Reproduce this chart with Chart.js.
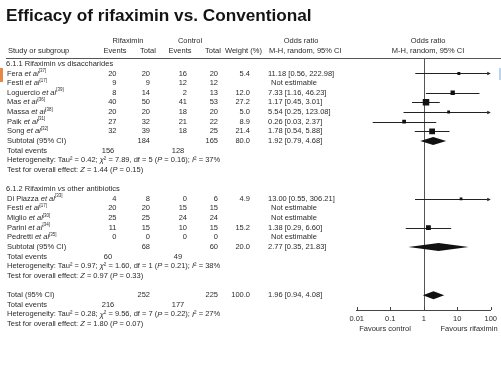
<!DOCTYPE html>
<html>
<head>
<meta charset="utf-8">
<script src="https://cdn.jsdelivr.net/npm/chart.js@4/dist/chart.umd.min.js"></script>
<style>
  html, body { margin: 0; padding: 0; background: #fff; }
  canvas { display: block; }
</style>
</head>
<body>
<canvas id="chart" width="501" height="375"></canvas>
<script>
var title = 'Efficacy of rifaximin vs. Conventional';

// 6.1.1 Rifaximin vs disaccharides
var names1 = ['Fera', 'Festi', 'Loguercio', 'Mas', 'Massa', 'Paik', 'Song'];
var refs1 = ['37', '17', '39', '36', '38', '31', '32'];
var rifEvents1 = [20, 9, 8, 40, 20, 27, 32];
var rifTotal1 = [20, 9, 14, 50, 20, 32, 39];
var ctlEvents1 = [16, 12, 2, 41, 18, 21, 18];
var ctlTotal1 = [20, 12, 13, 53, 20, 22, 25];
var weight1 = [5.4, null, 12.0, 27.2, 5.0, 8.9, 21.4];
var or1 = [11.18, null, 7.33, 1.17, 5.54, 0.26, 1.78];
var lo1 = [0.56, null, 1.16, 0.45, 0.25, 0.03, 0.54];
var hi1 = [222.98, null, 46.23, 3.01, 123.08, 2.37, 5.88];

// 6.1.2 Rifaximin vs other antibiotics
var names2 = ['Di Piazza', 'Festi', 'Miglio', 'Parini', 'Pedretti'];
var refs2 = ['33', '17', '30', '34', '35'];
var rifEvents2 = [4, 20, 25, 11, 0];
var rifTotal2 = [8, 20, 25, 15, 0];
var ctlEvents2 = [0, 15, 24, 10, 0];
var ctlTotal2 = [6, 15, 24, 15, 0];
var weight2 = [4.9, null, null, 15.2, null];
var or2 = [13.00, null, null, 1.38, null];
var lo2 = [0.55, null, null, 0.29, null];
var hi2 = [306.21, null, null, 6.60, null];

// subtotal 1, subtotal 2, overall total
var sumLabels = ['Subtotal (95% CI)', 'Subtotal (95% CI)', 'Total (95% CI)'];
var sumRifTotal = [184, 68, 252];
var sumCtlTotal = [165, 60, 225];
var sumWeight = [80.0, 20.0, 100.0];
var sumOr = [1.92, 2.77, 1.96];
var sumLo = [0.79, 0.35, 0.94];
var sumHi = [4.68, 21.83, 4.08];
var sumRifEvents = [156, 60, 216];
var sumCtlEvents = [128, 49, 177];
var hetText = [
    'Heterogeneity: Tau² = 0.42; _χ_² = 7.89, df = 5 (_P_ = 0.16); _I_² = 37%',
    'Heterogeneity: Tau² = 0.97; _χ_² = 1.60, df = 1 (_P_ = 0.21); _I_² = 38%',
    'Heterogeneity: Tau² = 0.28; _χ_² = 9.56, df = 7 (_P_ = 0.22); _I_² = 27%'
];
var testText = [
    'Test for overall effect: _Z_ = 1.44 (_P_ = 0.15)',
    'Test for overall effect: _Z_ = 0.97 (_P_ = 0.33)',
    'Test for overall effect: _Z_ = 1.80 (_P_ = 0.07)'
];

var xTicks = [0.01, 0.1, 1, 10, 100];

// put the groups together and give each line a row number
var groups = [
    { head: '6.1.1 Rifaximin _vs_ disaccharides', start: 0, names: names1, refs: refs1, re: rifEvents1, rt: rifTotal1,
      ce: ctlEvents1, ct: ctlTotal1, w: weight1, or: or1, lo: lo1, hi: hi1 },
    { head: '6.1.2 Rifaximin _vs_ other antibiotics', start: 13, names: names2, refs: refs2, re: rifEvents2, rt: rifTotal2,
      ce: ctlEvents2, ct: ctlTotal2, w: weight2, or: or2, lo: lo2, hi: hi2 }
];
var sumRows = [8, 19, 24];

var squares = [];
var ciLines = [];
groups.forEach(function (g) {
    g.names.forEach(function (n, i) {
        var row = g.start + 1 + i;
        if (g.or[i] != null) {
            squares.push({ x: g.or[i], y: row, w: g.w[i] });
            ciLines.push({ lo: g.lo[i], hi: g.hi[i], y: row });
        }
    });
});
var diamonds = sumOr.map(function (v, i) {
    return { or: v, lo: sumLo[i], hi: sumHi[i], y: sumRows[i] };
});

var FAMILY = '"Liberation Sans", Arial, sans-serif';
var FS = 7.5;
var TXT = '#2b2b2b';

function parseRich(str) {
    var segs = [], cur = '', it = false, sup = false;
    for (var i = 0; i < str.length; i++) {
        var c = str[i];
        if (c === '_' || c === '^') {
            if (cur) segs.push({ t: cur, it: it, sup: sup });
            cur = '';
            if (c === '_') it = !it; else sup = !sup;
        } else cur += c;
    }
    if (cur) segs.push({ t: cur, it: it, sup: sup });
    return segs;
}
function fontFor(s) {
    return (s.it ? 'italic ' : '') + (s.sup ? 4.5 : FS) + 'px ' + FAMILY;
}
function drawText(ctx, str, x, y, align) {
    var segs = parseRich(String(str));
    var w = 0;
    segs.forEach(function (s) { ctx.font = fontFor(s); s.w = ctx.measureText(s.t).width; w += s.w; });
    var cx = align === 'right' ? x - w : (align === 'center' ? x - w / 2 : x);
    ctx.textAlign = 'left';
    ctx.textBaseline = 'middle';
    segs.forEach(function (s) {
        ctx.font = fontFor(s);
        ctx.fillText(s.t, cx, s.sup ? y - 2.5 : y);
        cx += s.w;
    });
}
function fmtCI(o, l, h) {
    return o.toFixed(2) + ' [' + l.toFixed(2) + ', ' + h.toFixed(2) + ']';
}

// column positions
var colRe = 116.5, colRt = 150, colCe = 187, colCt = 218, colW = 250, colOr = 268;

var forestPlugin = {
    id: 'forest',
    beforeDatasetsDraw: function (chart) {
        var ctx = chart.ctx, xs = chart.scales.x, ys = chart.scales.y, area = chart.chartArea;
        ctx.save();
        // line of no effect
        ctx.strokeStyle = '#555';
        ctx.lineWidth = 1;
        ctx.beginPath();
        ctx.moveTo(Math.round(xs.getPixelForValue(1)) + 0.5, area.top);
        ctx.lineTo(Math.round(xs.getPixelForValue(1)) + 0.5, area.bottom);
        ctx.stroke();
        // confidence intervals
        ctx.strokeStyle = '#222';
        ctx.fillStyle = '#222';
        ciLines.forEach(function (c) {
            var py = Math.round(ys.getPixelForValue(c.y)) + 0.5;
            var x1 = xs.getPixelForValue(Math.max(c.lo, 0.01));
            var x2 = c.hi > 100 ? area.right - 3 : xs.getPixelForValue(c.hi);
            ctx.beginPath();
            ctx.moveTo(x1, py);
            ctx.lineTo(x2, py);
            ctx.stroke();
            if (c.hi > 100) {
                ctx.beginPath();
                ctx.moveTo(area.right, py);
                ctx.lineTo(area.right - 3.5, py - 1.8);
                ctx.lineTo(area.right - 3.5, py + 1.8);
                ctx.closePath();
                ctx.fill();
            }
        });
        // pooled diamonds
        ctx.fillStyle = '#111';
        diamonds.forEach(function (d) {
            var py = ys.getPixelForValue(d.y);
            ctx.beginPath();
            ctx.moveTo(xs.getPixelForValue(d.lo), py);
            ctx.lineTo(xs.getPixelForValue(d.or), py - 4);
            ctx.lineTo(xs.getPixelForValue(d.hi), py);
            ctx.lineTo(xs.getPixelForValue(d.or), py + 4);
            ctx.closePath();
            ctx.fill();
        });
        // tick marks pointing up
        ctx.strokeStyle = '#444';
        xTicks.forEach(function (t) {
            var px = Math.round(xs.getPixelForValue(t)) + 0.5;
            ctx.beginPath();
            ctx.moveTo(px, area.bottom - 3);
            ctx.lineTo(px, area.bottom);
            ctx.stroke();
        });
        ctx.restore();
    },
    afterDraw: function (chart) {
        var ctx = chart.ctx, ys = chart.scales.y;
        ctx.save();
        // small marks at the edges of the slide
        ctx.fillStyle = '#e58a45';
        ctx.fillRect(0, 68, 3, 14);
        ctx.fillStyle = '#bcd5ee';
        ctx.fillRect(499, 68, 2, 12);

        // title
        ctx.fillStyle = '#141414';
        ctx.font = 'bold 16px ' + FAMILY;
        var tw = ctx.measureText(title).width;
        ctx.font = 'bold ' + (16 * 306 / tw).toFixed(2) + 'px ' + FAMILY;
        ctx.textAlign = 'left';
        ctx.textBaseline = 'alphabetic';
        ctx.fillText(title, 6, 21);

        // header
        ctx.fillStyle = TXT;
        drawText(ctx, 'Rifaximin', 128, 40.5, 'center');
        drawText(ctx, 'Control', 190, 40.5, 'center');
        drawText(ctx, 'Odds ratio', 301, 40.5, 'center');
        drawText(ctx, 'Odds ratio', 428, 40.5, 'center');
        drawText(ctx, 'Study or subgroup', 8, 51, 'left');
        drawText(ctx, 'Events', 115, 51, 'center');
        drawText(ctx, 'Total', 148, 51, 'center');
        drawText(ctx, 'Events', 180, 51, 'center');
        drawText(ctx, 'Total', 213, 51, 'center');
        drawText(ctx, 'Weight (%)', 225, 51, 'left');
        drawText(ctx, 'M-H, random, 95% CI', 269, 51, 'left');
        drawText(ctx, 'M-H, random, 95% CI', 428, 51, 'center');
        ctx.strokeStyle = '#555';
        ctx.lineWidth = 1;
        ctx.beginPath();
        ctx.moveTo(6, 58.5);
        ctx.lineTo(501, 58.5);
        ctx.stroke();

        function rowY(r) { return ys.getPixelForValue(r); }

        groups.forEach(function (g, gi) {
            drawText(ctx, g.head, 6, rowY(g.start), 'left');
            g.names.forEach(function (n, i) {
                var py = rowY(g.start + 1 + i);
                drawText(ctx, n + ' _et al_^[' + g.refs[i] + ']^', 7, py, 'left');
                drawText(ctx, g.re[i], colRe, py, 'right');
                drawText(ctx, g.rt[i], colRt, py, 'right');
                drawText(ctx, g.ce[i], colCe, py, 'right');
                drawText(ctx, g.ct[i], colCt, py, 'right');
                if (g.or[i] != null) {
                    drawText(ctx, g.w[i].toFixed(1), colW, py, 'right');
                    drawText(ctx, fmtCI(g.or[i], g.lo[i], g.hi[i]), colOr, py, 'left');
                } else {
                    drawText(ctx, 'Not estimable', 294, py, 'center');
                }
            });
        });
        sumRows.forEach(function (r, i) {
            drawText(ctx, sumLabels[i], 7, rowY(r), 'left');
            drawText(ctx, sumRifTotal[i], colRt, rowY(r), 'right');
            drawText(ctx, sumCtlTotal[i], colCt, rowY(r), 'right');
            drawText(ctx, sumWeight[i].toFixed(1), colW, rowY(r), 'right');
            drawText(ctx, fmtCI(sumOr[i], sumLo[i], sumHi[i]), colOr, rowY(r), 'left');
            drawText(ctx, 'Total events', 7, rowY(r + 1), 'left');
            drawText(ctx, sumRifEvents[i], 108, rowY(r + 1), 'center');
            drawText(ctx, sumCtlEvents[i], 178, rowY(r + 1), 'center');
            drawText(ctx, hetText[i], 7, rowY(r + 2), 'left');
            drawText(ctx, testText[i], 7, rowY(r + 3), 'left');
        });

        drawText(ctx, 'Favours control', 385, 328.5, 'center');
        drawText(ctx, 'Favours rifaximin', 469, 328.5, 'center');
        ctx.restore();
    }
};

new Chart(document.getElementById('chart').getContext('2d'), {
    type: 'scatter',
    data: {
        datasets: [{
            data: squares,
            pointStyle: 'rect',
            pointRadius: squares.map(function (s) { return 0.88 * Math.sqrt(s.w); }),
            pointHoverRadius: squares.map(function (s) { return 0.88 * Math.sqrt(s.w); }),
            backgroundColor: '#111',
            borderWidth: 0
        }]
    },
    options: {
        responsive: false,
        animation: false,
        layout: { padding: { left: 356.7, right: 6, top: 58.5, bottom: 43 } },
        plugins: { legend: { display: false }, tooltip: { enabled: false } },
        scales: {
            x: {
                type: 'logarithmic',
                min: 0.01,
                max: 100,
                afterBuildTicks: function (scale) {
                    scale.ticks = xTicks.map(function (v) { return { value: v }; });
                },
                afterFit: function (scale) { scale.height = 22; },
                grid: { display: false, drawTicks: false },
                border: { display: true, color: '#444', width: 1 },
                ticks: {
                    padding: 4,
                    color: TXT,
                    font: { family: 'Liberation Sans', size: 7.5 },
                    callback: function (v) { return String(v); }
                }
            },
            y: {
                type: 'linear',
                display: false,
                reverse: true,
                min: -0.55,
                max: 25.54
            }
        }
    },
    plugins: [forestPlugin]
});
</script>
</body>
</html>
